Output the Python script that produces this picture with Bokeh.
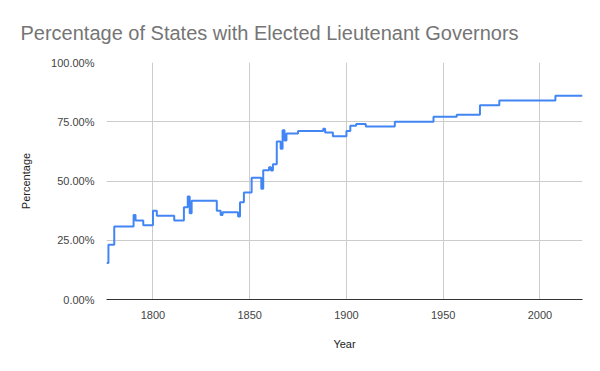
from bokeh.plotting import figure
from bokeh.models import NumeralTickFormatter, FixedTicker, Range1d
from bokeh.embed import file_html
from bokeh.resources import INLINE

# Change-point years and share of states with elected lieutenant governors (fraction)
years = [1776, 1777, 1780, 1790, 1791, 1795, 1800, 1802, 1811, 1816, 1818, 1819, 1820,
         1833, 1835, 1836, 1844, 1845, 1847, 1851, 1856, 1857, 1860, 1861, 1862, 1864,
         1866, 1867, 1868, 1869, 1875, 1888, 1889, 1893, 1900, 1902, 1905, 1910, 1925,
         1945, 1957, 1969, 1979, 2008, 2022]
share = [0.154, 0.231, 0.308, 0.357, 0.333, 0.313, 0.375, 0.353, 0.333, 0.389, 0.435, 0.364, 0.417,
         0.375, 0.357, 0.368, 0.350, 0.410, 0.452, 0.514, 0.467, 0.545, 0.558, 0.544, 0.571, 0.667,
         0.636, 0.714, 0.671, 0.700, 0.711, 0.720, 0.705, 0.689, 0.711, 0.733, 0.741, 0.730, 0.750,
         0.771, 0.780, 0.820, 0.840, 0.860, 0.860]
x_ticks = [1800, 1850, 1900, 1950, 2000]
y_ticks = [0.0, 0.25, 0.5, 0.75, 1.0]

FONT = "Liberation Sans"

p = figure(width=584, height=355, output_backend="svg", toolbar_location=None,
           x_range=Range1d(1776, 2022), y_range=Range1d(0, 1),
           title="Percentage of States with Elected Lieutenant Governors",
           min_border_left=106, min_border_right=2, min_border_top=62, min_border_bottom=56)

p.title.text_font = FONT
p.title.text_font_size = "20px"
p.title.text_font_style = "normal"
p.title.text_color = "#757575"
p.title.align = "left"
p.title.offset = -86
p.title.standoff = 37

p.outline_line_color = None
p.background_fill_color = "white"
p.border_fill_color = "white"

p.step(years, share, mode="after", line_color="#4285F4", line_width=2)

p.xaxis.ticker = FixedTicker(ticks=x_ticks)
p.yaxis.ticker = FixedTicker(ticks=y_ticks)
p.yaxis.formatter = NumeralTickFormatter(format="0.00%")

for ax in (p.xaxis, p.yaxis):
    ax.major_tick_line_color = None
    ax.minor_tick_line_color = None
    ax.major_label_text_font = FONT
    ax.major_label_text_font_size = "11px"
    ax.major_label_text_color = "#444444"
    ax.axis_label_text_font = FONT
    ax.axis_label_text_font_size = "11px"
    ax.axis_label_text_font_style = "normal"
    ax.axis_label_text_color = "#222222"

p.yaxis.axis_line_color = None
p.xaxis.axis_line_color = "#333333"
p.xaxis.axis_line_width = 1
p.yaxis.major_label_standoff = 6
p.xaxis.major_label_standoff = 5
p.yaxis.axis_label = "Percentage"
p.xaxis.axis_label = "Year"
p.yaxis.axis_label_standoff = 16
p.xaxis.axis_label_standoff = 16

p.xgrid.grid_line_color = "#cccccc"
p.ygrid.grid_line_color = "#cccccc"
p.xgrid.ticker = FixedTicker(ticks=x_ticks)
p.ygrid.ticker = FixedTicker(ticks=y_ticks)

open("out.html", "w").write(file_html(p, INLINE))
